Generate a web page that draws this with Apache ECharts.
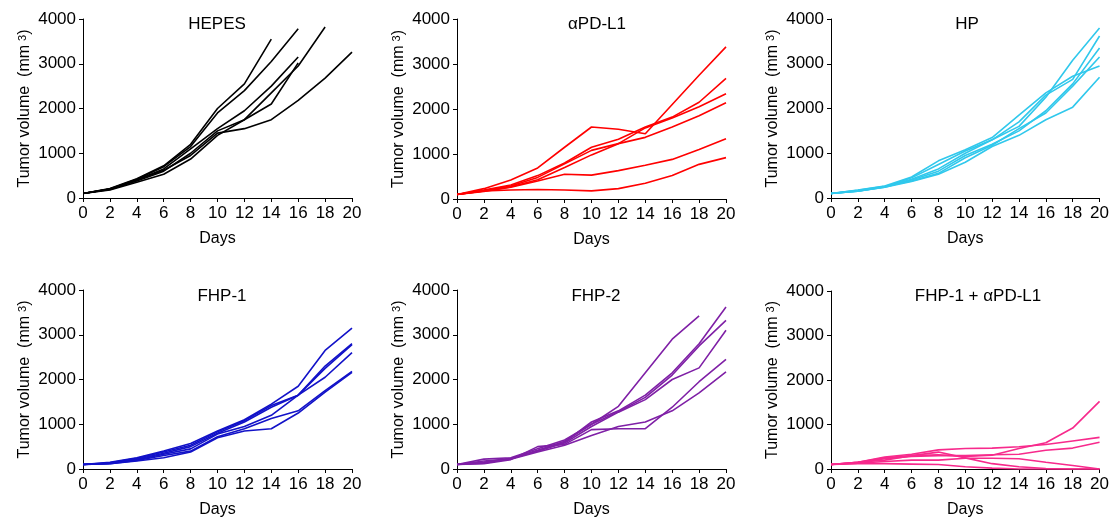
<!DOCTYPE html>
<html><head><meta charset="utf-8">
<script src="https://cdn.jsdelivr.net/npm/echarts@6/dist/echarts.min.js"></script>
<style>html,body{margin:0;padding:0;background:#fff}#c{width:1112px;height:519px}</style>
</head><body><div id="c"></div>
<script>
// ---- data ----
const days = [0, 2, 4, 6, 8, 10, 12, 14, 16, 18, 20];
const xTicks = [0, 2, 4, 6, 8, 10, 12, 14, 16, 18, 20];
const yTicks = [0, 1000, 2000, 3000, 4000];
const panelTitles = ['HEPES', 'αPD-L1', 'HP', 'FHP-1', 'FHP-2', 'FHP-1 + αPD-L1'];
const panelColors = ['#000000', '#ff0000', '#30c8ec', '#1212c8', '#7f20a6', '#f72a8c'];

const hepes = [
  [100, 210, 430, 720, 1200, 2000, 2550, 3550],
  [100, 200, 420, 700, 1150, 1900, 2400, 3050, 3780],
  [100, 200, 400, 650, 1100, 1550, 1950, 2500, 3150],
  [100, 180, 350, 530, 870, 1400, 1750, 2100, 3020],
  [100, 190, 380, 600, 1000, 1500, 1750, 2350, 2950, 3820],
  [100, 200, 400, 620, 950, 1450, 1550, 1750, 2180, 2680, 3260]
];
const apdl1 = [
  [100, 230, 420, 690, 1150, 1600, 1550, 1450, 2100, 2750, 3380],
  [100, 200, 310, 520, 800, 1150, 1330, 1600, 1820, 2150, 2680],
  [100, 190, 290, 480, 780, 1080, 1230, 1580, 1800, 2050, 2340],
  [100, 180, 270, 430, 700, 980, 1230, 1370, 1600, 1850, 2140],
  [100, 170, 260, 400, 550, 530, 630, 750, 880, 1100, 1340],
  [100, 180, 200, 210, 200, 180, 230, 350, 520, 770, 920]
];
const hp = [
  [100, 160, 250, 450, 750, 1050, 1300, 1600, 2250, 3080, 3800],
  [100, 180, 270, 470, 830, 1080, 1350, 1850, 2350, 2720, 2950],
  [100, 150, 250, 420, 650, 1000, 1300, 1700, 2300, 2650, 3620],
  [100, 160, 240, 400, 600, 950, 1200, 1500, 1950, 2550, 3350],
  [100, 170, 260, 380, 550, 900, 1180, 1550, 1900, 2500, 3150],
  [100, 150, 240, 370, 530, 800, 1150, 1400, 1750, 2030, 2700]
];
const fhp1 = [
  [100, 150, 250, 400, 570, 850, 1100, 1450, 1850, 2650, 3150],
  [100, 140, 240, 380, 530, 830, 1080, 1420, 1650, 2300, 2800],
  [100, 130, 220, 350, 500, 800, 1050, 1380, 1650, 2250, 2780],
  [100, 130, 200, 330, 450, 780, 950, 1200, 1650, 2050, 2600],
  [100, 120, 190, 300, 400, 720, 900, 1130, 1300, 1750, 2180],
  [100, 120, 180, 250, 380, 700, 850, 900, 1250, 1720, 2160]
];
const fhp2 = [
  [100, 150, 240, 420, 620, 1000, 1400, 2150, 2900, 3420],
  [100, 130, 230, 400, 600, 1050, 1300, 1650, 2150, 2800, 3620],
  [100, 220, 250, 450, 650, 1000, 1280, 1600, 2100, 2750, 3320],
  [100, 180, 230, 400, 580, 950, 1270, 1550, 2000, 2260, 3100],
  [100, 120, 210, 500, 550, 880, 900, 900, 1380, 1950, 2450],
  [100, 150, 220, 380, 530, 750, 950, 1050, 1300, 1700, 2170]
];
const fhp1Apdl1 = [
  [100, 150, 250, 300, 320, 280, 310, 460, 590, 920, 1520],
  [100, 150, 270, 330, 430, 460, 470, 500, 550, 630, 710],
  [100, 140, 230, 280, 300, 300, 320, 330, 420, 470, 600],
  [100, 150, 200, 300, 380, 250, 120, 50, 10, 0, 0],
  [100, 130, 170, 200, 200, 240, 240, 230, 150, 80, 0],
  [100, 120, 120, 110, 100, 50, 20, 0, 0, 0, 0]
];
const groups = [hepes, apdl1, hp, fhp1, fhp2, fhp1Apdl1];

// ---- layout ----
const FONT = 'Liberation Sans, Arial, sans-serif';
const grids = [
  { left: 83, top: 19, width: 269, height: 179 },
  { left: 457, top: 19, width: 269, height: 180 },
  { left: 831, top: 19, width: 269, height: 179 },
  { left: 83, top: 290, width: 269, height: 179 },
  { left: 457, top: 290, width: 269, height: 179 },
  { left: 831, top: 291, width: 269, height: 179 }
];
const titlePos = [[217, 24], [597, 24], [967, 24], [222, 296], [596, 296], [978, 296]];

const axisLine = { show: true, lineStyle: { color: '#000', width: 1 } };
const axisTick = { show: true, length: 4, inside: false, lineStyle: { color: '#000', width: 1 } };
const plain = (v) => String(v);

const xAxes = [], yAxes = [], series = [], graphics = [];
grids.forEach((g, i) => {
  xAxes.push({
    type: 'value', gridIndex: i, min: xTicks[0], max: xTicks[xTicks.length - 1], interval: 2,
    name: 'Days', nameLocation: 'middle', nameGap: 33,
    nameTextStyle: { fontFamily: FONT, fontSize: 16, color: '#000' },
    axisLine, axisTick, splitLine: { show: false },
    axisLabel: { fontFamily: FONT, fontSize: 17, color: '#000', margin: 7, formatter: plain }
  });
  yAxes.push({
    type: 'value', gridIndex: i, min: yTicks[0], max: yTicks[yTicks.length - 1], interval: 1000,
    name: 'Tumor volume  (mm{s|3})', nameLocation: 'middle', nameGap: 50,
    nameTextStyle: {
      fontFamily: FONT, fontSize: 16, color: '#000',
      rich: { s: { fontFamily: FONT, fontSize: 11, color: '#000', verticalAlign: 'top', padding: [0, 0, 0, 4] } }
    },
    axisLine, axisTick, splitLine: { show: false },
    axisLabel: { fontFamily: FONT, fontSize: 17, color: '#000', margin: 7, formatter: plain }
  });
  groups[i].forEach((mouse) => {
    series.push({
      type: 'line', xAxisIndex: i, yAxisIndex: i, showSymbol: false, symbol: 'none',
      animation: false, silent: true,
      lineStyle: { color: panelColors[i], width: 1.6 },
      data: mouse.map((v, k) => [days[k], v])
    });
  });
  graphics.push({
    type: 'text', x: titlePos[i][0], y: titlePos[i][1],
    style: { text: panelTitles[i], font: '17px ' + FONT, fill: '#000', align: 'center', verticalAlign: 'middle' }
  });
});

const chart = echarts.init(document.getElementById('c'), null, { renderer: 'canvas' });
chart.setOption({
  animation: false,
  backgroundColor: '#fff',
  grid: grids,
  xAxis: xAxes,
  yAxis: yAxes,
  series: series,
  graphic: graphics
});
</script>
</body></html>
